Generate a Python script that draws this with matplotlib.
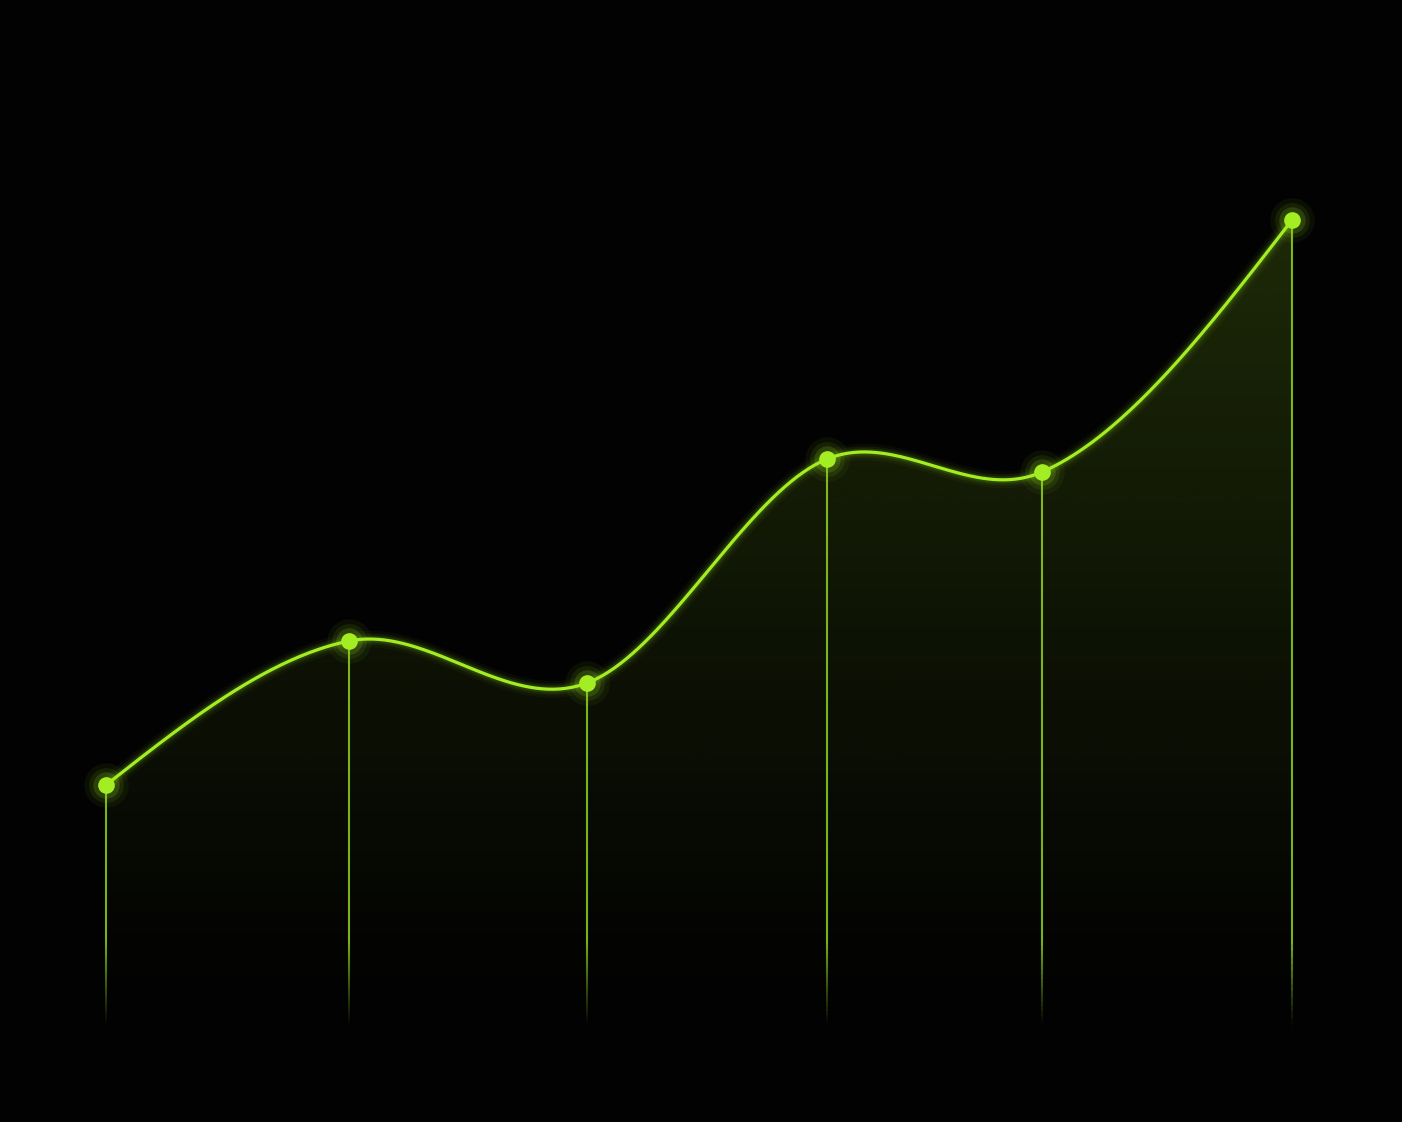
import numpy as np
import matplotlib
matplotlib.use("Agg")
import matplotlib.pyplot as plt
from matplotlib.collections import LineCollection
from matplotlib.patches import Polygon

# points (x position, value above the bottom edge)
x_pos = [106, 349, 587, 827, 1042, 1292]
values = [337, 481, 439, 663, 650, 902]

green = "#a3ee22"
bg = "#020202"
base = 97


def smooth_curve(xs, ys, n=80):
    # cubic hermite, three point slopes inside, natural ends
    x = np.asarray(xs, float)
    y = np.asarray(ys, float)
    k = len(x)
    h = np.diff(x)
    d = np.diff(y) / h
    m = np.zeros(k)
    for i in range(1, k - 1):
        m[i] = (h[i] * d[i - 1] + h[i - 1] * d[i]) / (h[i - 1] + h[i])
    m[0] = (3 * d[0] - m[1]) / 2
    m[-1] = (3 * d[-1] - m[-2]) / 2
    ox, oy = [], []
    for i in range(k - 1):
        t = np.linspace(0, 1, n)
        if i > 0:
            t = t[1:]
        h00 = 2 * t ** 3 - 3 * t ** 2 + 1
        h10 = t ** 3 - 2 * t ** 2 + t
        h01 = -2 * t ** 3 + 3 * t ** 2
        h11 = t ** 3 - t ** 2
        ox.append(x[i] + t * h[i])
        oy.append(h00 * y[i] + h10 * h[i] * m[i] + h01 * y[i + 1] + h11 * h[i] * m[i + 1])
    return np.column_stack([np.concatenate(ox), np.concatenate(oy)])


curve = smooth_curve(x_pos, values)

fig = plt.figure(figsize=(14.02, 11.22), dpi=100)
fig.patch.set_facecolor(bg)
ax = fig.add_axes([0, 0, 1, 1])
ax.set_facecolor(bg)
ax.set_xlim(0, 1402)
ax.set_ylim(0, 1122)
ax.axis("off")

# gradient fill under the curve
top = max(values)
yy = np.linspace(0, 1122, 400)
alpha = np.clip((yy - base) / (top - base), 0, 1) ** 1.1 * 0.17
rgba = np.zeros((len(yy), 1, 4))
rgba[:, 0, :3] = matplotlib.colors.to_rgb(green)
rgba[:, 0, 3] = alpha
im = ax.imshow(rgba, extent=[0, 1402, 0, 1122], origin="lower", aspect="auto", zorder=1)
poly_pts = np.vstack([curve, [[x_pos[-1], base - 10], [x_pos[0], base - 10]]])
clip = Polygon(poly_pts, closed=True, transform=ax.transData, facecolor="none", edgecolor="none")
ax.add_patch(clip)
im.set_clip_path(clip)

# vertical drop lines fading out near the bottom
for x, v in zip(x_pos, values):
    ys = np.linspace(v, base, 120)
    segs = [[(x, ys[i]), (x, ys[i + 1])] for i in range(len(ys) - 1)]
    mid = (ys[:-1] + ys[1:]) / 2
    a = np.clip((mid - base) / 85.0, 0, 1) * 0.75
    cols = [matplotlib.colors.to_rgba(green, ai) for ai in a]
    ax.add_collection(LineCollection(segs, colors=cols, linewidths=1.5, zorder=2))

# glowing curve
for lw, a in [(12, 0.04), (8, 0.07), (5, 0.12)]:
    ax.plot(curve[:, 0], curve[:, 1], color=green, lw=lw, alpha=a, solid_capstyle="round", zorder=3)
ax.plot(curve[:, 0], curve[:, 1], color=green, lw=2.3, solid_capstyle="round", zorder=4)

# glowing points
for ms, a in [(32, 0.05), (25, 0.09), (19, 0.16)]:
    ax.plot(x_pos, values, "o", color=green, ms=ms, alpha=a, mec="none", zorder=5)
ax.plot(x_pos, values, "o", color=green, ms=12, mec="none", zorder=6)

fig.savefig("out.png", dpi=100, facecolor=bg)
